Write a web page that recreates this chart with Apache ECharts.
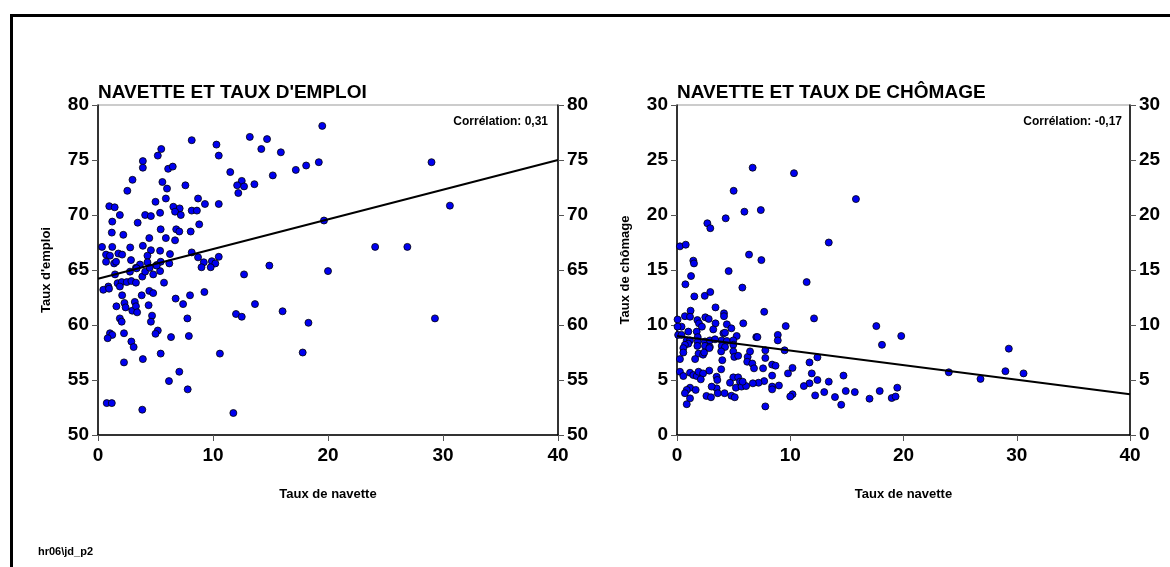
<!DOCTYPE html>
<html>
<head>
<meta charset="utf-8">
<title>Navette</title>
<script src="https://cdn.jsdelivr.net/npm/echarts@6/dist/echarts.min.js"></script>
<style>
    html, body { margin: 0; padding: 0; background: #fff; }
    #chart { width: 1170px; height: 567px; }
</style>
</head>
<body>
<div id="chart"></div>
<script>
    // taux de navette / taux d'emploi (une paire par commune)
    var emploi = [
        [8.15,76.8],[10.3,76.4],[10.5,75.4],[13.2,77.1],[14.7,76.9],[14.2,76.0],[5.5,76.0],[5.2,75.4],[3.9,74.9],[3.9,74.3],
        [6.1,74.2],[6.5,74.4],[3.0,73.2],[2.55,72.2],[5.6,73.0],[6.0,72.4],[7.6,72.7],[11.5,73.9],[12.5,73.1],[12.1,72.7],
        [12.7,72.6],[12.2,72.0],[13.6,72.8],[0.98,70.8],[1.45,70.7],[1.24,69.4],[1.9,70.0],[1.2,68.4],[2.2,68.2],[3.45,69.3],
        [4.1,70.0],[4.6,69.9],[5.0,71.2],[5.9,71.5],[5.4,70.2],[6.55,70.75],[7.1,70.6],[6.7,70.3],[7.2,70.0],[8.7,71.5],
        [9.3,71.0],[10.5,71.0],[8.15,70.4],[8.6,70.4],[8.8,69.15],[8.06,68.5],[5.45,68.7],[6.8,68.7],[7.07,68.5],[4.46,67.9],
        [5.9,67.9],[6.7,67.7],[0.35,67.1],[1.24,67.1],[2.8,67.05],[3.9,67.2],[4.6,66.8],[5.4,66.75],[0.7,66.4],[1.04,66.3],
        [0.7,65.75],[1.4,65.6],[1.57,65.75],[1.77,66.5],[2.1,66.4],[6.26,66.45],[8.15,66.6],[8.7,66.15],[9.2,65.7],[10.5,66.2],
        [9.9,65.8],[10.2,65.6],[4.3,66.3],[4.3,65.7],[5.1,65.45],[5.45,65.75],[6.2,65.6],[2.87,65.9],[3.65,65.5],[3.3,65.2],
        [14.9,65.4],[0.9,63.5],[0.46,63.2],[1.7,63.8],[2.06,63.9],[2.5,63.9],[2.9,64.0],[3.3,63.85],[1.48,64.6],[2.78,64.85],
        [3.36,65.15],[3.85,64.4],[4.1,64.85],[4.8,64.6],[5.4,64.9],[4.5,65.2],[5.1,65.4],[5.74,63.85],[0.96,63.3],[1.9,63.5],
        [2.1,62.7],[2.3,62.0],[2.4,61.6],[1.6,61.7],[2.98,61.3],[3.2,62.1],[3.3,61.7],[3.4,61.15],[3.8,62.7],[4.46,63.1],
        [4.8,62.9],[4.4,61.8],[4.7,60.85],[4.6,60.3],[1.9,60.6],[2.06,60.3],[1.04,59.25],[1.24,59.1],[0.84,58.8],[2.26,59.25],
        [2.9,58.5],[3.1,58.0],[5.2,59.5],[5.0,59.2],[3.9,56.9],[2.26,56.6],[5.45,57.4],[6.35,58.9],[6.75,62.4],[7.4,61.9],
        [8.0,62.7],[9.25,63.0],[7.77,60.6],[7.9,59.0],[10.6,57.4],[7.07,55.75],[6.17,54.9],[7.8,54.15],[0.76,52.9],[1.2,52.9],
        [3.85,52.3],[12.7,64.6],[13.65,61.9],[12.0,61.0],[12.5,60.75],[11.77,52.0],[9.8,65.25],[9.0,65.25],
        [19.5,78.1],[15.9,75.7],[15.2,73.6],[17.2,74.1],[18.1,74.5],[19.2,74.8],[29.0,74.8],[30.6,70.85],[19.65,69.5],[24.1,67.1],
        [26.9,67.1],[20.0,64.9],[16.05,61.25],[18.3,60.2],[29.3,60.6],[17.8,57.5]
    ];

    // taux de navette / taux de chômage
    var chomage = [
        [6.68,24.3],[10.33,23.8],[5.0,22.2],[5.95,20.3],[7.4,20.45],[4.3,19.7],[2.68,19.25],[2.94,18.8],[0.26,17.15],[0.77,17.3],
        [13.4,17.5],[1.44,15.85],[1.5,15.6],[6.36,16.4],[7.45,15.9],[1.24,14.45],[4.56,14.9],[0.74,13.7],[11.45,13.9],[5.77,13.4],
        [1.53,12.6],[2.45,12.65],[2.94,13.0],[15.8,21.45],[17.6,9.9],[19.8,9.0],[18.1,8.2],[29.3,7.85],[14.7,5.4],[14.9,4.0],
        [15.7,3.9],[17.9,4.0],[19.45,4.3],[17.0,3.3],[18.96,3.36],[19.3,3.5],[14.5,2.75],[24.0,5.7],[26.8,5.1],[29.0,5.8],
        [30.6,5.6],[12.1,10.6],[9.6,9.9],[7.7,11.2],[8.9,9.1],[8.9,8.6],[9.5,7.7],[12.4,7.06],[11.7,6.6],[10.2,6.1],
        [9.8,5.6],[11.9,5.6],[12.4,5.0],[13.4,4.85],[11.7,4.7],[11.2,4.45],[13.0,3.9],[12.2,3.6],[13.95,3.45],[10.2,3.7],
        [10.0,3.5],[7.8,2.6],[9.0,4.5],[8.4,4.4],[8.4,4.15],[8.4,5.4],[7.7,4.9],[7.2,4.75],[6.7,4.7],[7.8,7.0],
        [7.6,6.06],[8.4,6.4],[8.7,6.3],[7.0,8.9],[7.8,7.7],[3.4,11.6],[4.15,11.06],[4.15,10.8],[1.2,11.3],[0.7,10.8],
        [1.15,10.75],[0.05,10.5],[0.4,9.85],[0.05,9.85],[1.8,10.45],[1.94,10.15],[2.5,10.7],[2.8,10.55],[3.4,10.15],[4.4,10.06],
        [5.85,10.15],[1.0,9.4],[1.74,9.4],[2.2,9.85],[3.2,9.6],[4.1,9.25],[4.24,9.3],[4.8,9.7],[5.27,9.0],[0.1,9.1],
        [0.4,9.1],[0.86,8.6],[1.15,8.6],[1.0,8.3],[1.83,8.9],[1.83,8.5],[2.47,8.5],[2.9,8.6],[3.36,8.7],[3.95,8.6],
        [4.4,8.55],[4.97,8.6],[7.1,8.9],[0.7,8.2],[0.56,7.9],[0.56,7.5],[1.8,8.1],[2.47,8.1],[2.9,8.0],[3.95,8.1],
        [4.24,8.0],[4.97,8.2],[1.9,7.4],[2.3,7.3],[2.4,7.5],[2.85,7.9],[3.9,7.6],[4.97,7.6],[5.06,7.1],[5.4,7.2],
        [6.24,7.1],[6.45,7.6],[0.26,6.9],[1.6,6.9],[4.0,6.8],[6.2,6.66],[6.65,6.5],[6.8,6.06],[3.9,5.97],[2.85,5.85],
        [0.26,5.75],[0.56,5.36],[1.15,5.66],[1.44,5.45],[1.74,5.36],[1.9,5.75],[2.3,5.6],[3.5,5.3],[3.56,5.0],[2.1,5.06],
        [4.97,5.24],[5.4,5.24],[5.56,4.85],[5.2,4.3],[5.7,4.4],[6.1,4.45],[5.8,4.85],[4.68,4.75],[1.15,4.3],[0.86,4.1],
        [1.65,4.1],[3.5,4.24],[3.06,4.4],[0.7,3.8],[3.6,3.8],[4.2,3.8],[2.6,3.55],[3.0,3.43],[4.8,3.57],[5.1,3.43],
        [1.15,3.33],[0.86,2.8]
    ];

    // droites de tendance (extrémités)
    var tendanceEmploi = [[0, 64.2], [40, 75.0]];
    var tendanceChomage = [[0, 9.0], [40, 3.7]];

    var titres = ["NAVETTE ET TAUX D'EMPLOI", 'NAVETTE ET TAUX DE CHÔMAGE'];
    var correlations = ['Corrélation: 0,31', 'Corrélation: -0,17'];
    var nomsY = ["Taux d'emploi", 'Taux de chômage'];

    var police = 'Liberation Sans, Arial, sans-serif';

    function axeX(idx) {
        return {
            type: 'value', gridIndex: idx, min: 0, max: 40, interval: 10,
            name: 'Taux de navette', nameLocation: 'middle', nameGap: 53,
            nameTextStyle: { fontFamily: police, fontSize: 13, fontWeight: 'bold', color: '#000' },
            axisLine: { lineStyle: { color: '#000', width: 1.5 } },
            axisTick: { length: 6, lineStyle: { color: '#555' } },
            axisLabel: { fontFamily: police, fontSize: 19, fontWeight: 'bold', color: '#000', margin: 11 },
            splitLine: { show: false }
        };
    }

    function axeY(idx, min, max, interval, cote, nom) {
        return {
            type: 'value', gridIndex: idx, min: min, max: max, interval: interval, position: cote,
            name: nom || '', nameLocation: 'middle', nameGap: 45,
            nameTextStyle: { fontFamily: police, fontSize: 13, fontWeight: 'bold', color: '#000' },
            axisLine: { show: true, onZero: false, lineStyle: { color: '#000', width: 1.5 } },
            axisTick: { show: true, length: 6, lineStyle: { color: '#555' } },
            axisLabel: { fontFamily: police, fontSize: 19, fontWeight: 'bold', color: '#000', margin: 9 },
            splitLine: { show: false }
        };
    }

    var styleTitre = { fontFamily: police, fontSize: 19, fontWeight: 'bold', color: '#000' };
    var stylePoint = { color: '#0000f0', borderColor: '#000', borderWidth: 0.8, opacity: 1 };

    var chart = echarts.init(document.getElementById('chart'));
    chart.setOption({
        backgroundColor: '#fff',
        animation: false,
        title: [
            { text: titres[0], left: 93, top: 78, textStyle: styleTitre },
            { text: titres[1], left: 672, top: 78, textStyle: styleTitre }
        ],
        grid: [
            { left: 98, top: 105, width: 460, height: 330, show: true, borderColor: '#999', borderWidth: 1 },
            { left: 677, top: 105, width: 453, height: 330, show: true, borderColor: '#999', borderWidth: 1 }
        ],
        xAxis: [axeX(0), axeX(1)],
        yAxis: [
            axeY(0, 50, 80, 5, 'left', nomsY[0]),
            axeY(0, 50, 80, 5, 'right'),
            axeY(1, 0, 30, 5, 'left', nomsY[1]),
            axeY(1, 0, 30, 5, 'right')
        ],
        series: [
            { type: 'scatter', xAxisIndex: 0, yAxisIndex: 0, data: emploi, symbolSize: 7, itemStyle: stylePoint },
            { type: 'line', xAxisIndex: 0, yAxisIndex: 0, data: tendanceEmploi, symbol: 'none',
              lineStyle: { color: '#000', width: 2 } },
            { type: 'scatter', xAxisIndex: 1, yAxisIndex: 2, data: chomage, symbolSize: 7, itemStyle: stylePoint },
            { type: 'line', xAxisIndex: 1, yAxisIndex: 2, data: tendanceChomage, symbol: 'none',
              lineStyle: { color: '#000', width: 2 } }
        ],
        graphic: [
            { type: 'rect', shape: { x: 11.5, y: 15.5, width: 1300, height: 700 },
              style: { fill: 'none', stroke: '#000', lineWidth: 3 } },
            { type: 'text', x: 548, y: 116,
              style: { text: correlations[0], textAlign: 'right', font: 'bold 12px ' + police, fill: '#000' } },
            { type: 'text', x: 1122, y: 116,
              style: { text: correlations[1], textAlign: 'right', font: 'bold 12px ' + police, fill: '#000' } },
            { type: 'text', x: 38, y: 546,
              style: { text: 'hr06\\jd_p2', font: 'bold 11px ' + police, fill: '#000' } }
        ]
    });
</script>
</body>
</html>
